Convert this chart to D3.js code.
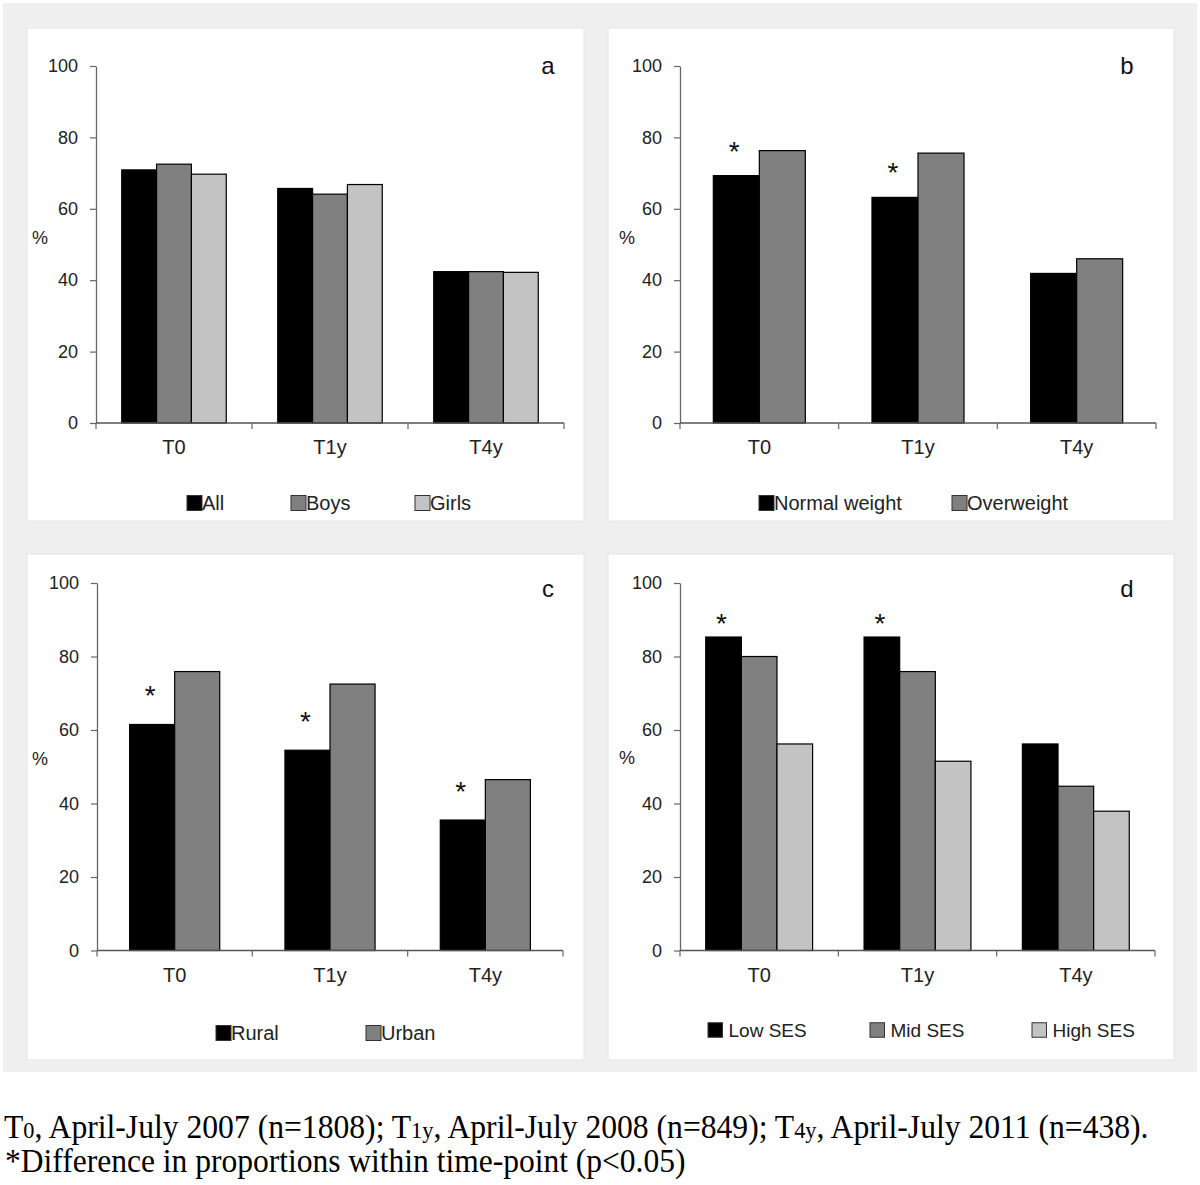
<!DOCTYPE html>
<html>
<head>
<meta charset="utf-8">
<script src="https://cdn.jsdelivr.net/npm/d3@7"></script>
<style>
  html, body { margin: 0; padding: 0; background: #ffffff; }
  svg { display: block; }
</style>
</head>
<body>
<svg id="chart" width="1200" height="1185"></svg>
<script>
// ---------------- data ----------------
const categories = ["T0", "T1y", "T4y"];
const yTicks = [0, 20, 40, 60, 80, 100];

// panel a: sex
const seriesA = ["All", "Boys", "Girls"];
const valuesAll   = [70.9, 65.7, 42.4];
const valuesBoys  = [72.5, 64.1, 42.4];
const valuesGirls = [69.7, 66.8, 42.2];

// panel b: weight status
const seriesB = ["Normal weight", "Overweight"];
const valuesNormal     = [69.3, 63.2, 41.9];
const valuesOverweight = [76.3, 75.6, 46.0];
const sigB = [true, true, false];

// panel c: residence
const seriesC = ["Rural", "Urban"];
const valuesRural = [61.5, 54.5, 35.5];
const valuesUrban = [75.9, 72.5, 46.5];
const sigC = [true, true, true];

// panel d: socio-economic status
const seriesD = ["Low SES", "Mid SES", "High SES"];
const valuesLow  = [85.3, 85.3, 56.2];
const valuesMid  = [80.0, 75.9, 44.7];
const valuesHigh = [56.2, 51.5, 37.9];
const sigD = [true, true, false];

const panelLetters = ["a", "b", "c", "d"];
const captionLine2 = "*Difference in proportions within time-point (p<0.05)";

// ---------------- drawing ----------------
const svg = d3.select("#chart");
const FONT = "'Liberation Sans', Arial, Helvetica, sans-serif";
const fills3 = ["#000000", "#808080", "#c3c3c3"];
const fills2 = ["#000000", "#808080"];

svg.append("rect").attr("x", 3).attr("y", 3).attr("width", 1194).attr("height", 1069)
  .attr("fill", "#efefef");

const panels = [
  { letter: panelLetters[0], box: [27, 28, 584, 521], x0: 96, x1: 564, yZero: 423, yTop: 66,
    series: seriesA, values: [valuesAll, valuesBoys, valuesGirls], fills: fills3, groupFrac: 0.67,
    sig: null, starOff: 0,
    legendX: [187, 291, 415], legendY: 503, legendGap: 0, legendSize: 15, legendFont: 20,
    pctX: 40, pctY: 238, letterX: 548, letterY: 74 },
  { letter: panelLetters[1], box: [608, 28, 1174, 521], x0: 680, x1: 1156, yZero: 423, yTop: 66,
    series: seriesB, values: [valuesNormal, valuesOverweight], fills: fills2, groupFrac: 0.58,
    sig: sigB, starOff: 31,
    legendX: [759, 952], legendY: 503, legendGap: 0, legendSize: 15, legendFont: 20,
    pctX: 627, pctY: 238, letterX: 1127, letterY: 74 },
  { letter: panelLetters[2], box: [27, 554, 584, 1060], x0: 97, x1: 563, yZero: 950.5, yTop: 583,
    series: seriesC, values: [valuesRural, valuesUrban], fills: fills2, groupFrac: 0.58,
    sig: sigC, starOff: 35,
    legendX: [216, 366], legendY: 1033, legendGap: 0, legendSize: 15, legendFont: 20,
    pctX: 40, pctY: 759, letterX: 548, letterY: 597 },
  { letter: panelLetters[3], box: [608, 554, 1174, 1060], x0: 680, x1: 1155, yZero: 950.5, yTop: 583,
    series: seriesD, values: [valuesLow, valuesMid, valuesHigh], fills: fills3, groupFrac: 0.675,
    sig: sigD, starOff: 20,
    legendX: [708, 870, 1032], legendY: 1030, legendGap: 6, legendSize: 14.5, legendFont: 19,
    pctX: 627, pctY: 758, letterX: 1127, letterY: 597 }
];

function drawPanel(cfg) {
  const g = svg.append("g");
  const [bx0, by0, bx1, by1] = cfg.box;
  g.append("rect").attr("x", bx0).attr("y", by0).attr("width", bx1 - bx0).attr("height", by1 - by0)
    .attr("fill", "#ffffff").attr("stroke", "#e4e4e4").attr("stroke-width", 1);

  const x = d3.scaleBand().domain(categories).range([cfg.x0, cfg.x1]).padding(0);
  const gw = x.bandwidth() * cfg.groupFrac;
  const xs = d3.scaleBand().domain(cfg.series).range([0, gw]).padding(0);
  const y = d3.scaleLinear().domain([0, 100]).range([cfg.yZero, cfg.yTop]);

  // bars
  cfg.series.forEach((s, i) => {
    g.append("g").selectAll("rect")
      .data(categories.map((c, j) => ({ c, v: cfg.values[i][j] })))
      .join("rect")
      .attr("x", d => x(d.c) + (x.bandwidth() - gw) / 2 + xs(s))
      .attr("y", d => y(d.v))
      .attr("width", xs.bandwidth())
      .attr("height", d => y(0) - y(d.v))
      .attr("fill", cfg.fills[i])
      .attr("stroke", "#000").attr("stroke-width", 1.2);
  });

  // significance stars above first series
  if (cfg.sig) {
    g.append("g").selectAll("text")
      .data(categories.map((c, j) => ({ c, v: cfg.values[0][j], s: cfg.sig[j] })).filter(d => d.s))
      .join("text")
      .attr("x", d => x(d.c) + (x.bandwidth() - gw) / 2 + xs(cfg.series[0]) + xs.bandwidth() / 2 - 2)
      .attr("y", d => y(d.v) - cfg.starOff + 16)
      .attr("text-anchor", "middle")
      .attr("font-family", FONT).attr("font-size", 28).attr("fill", "#111")
      .text("*");
  }

  // y axis
  const yAxis = d3.axisLeft(y).tickValues(yTicks).tickSize(6).tickSizeOuter(0).tickPadding(12);
  const ya = g.append("g").attr("transform", `translate(${cfg.x0},0)`).call(yAxis);
  ya.select(".domain").attr("stroke", "#666").attr("stroke-width", 1.3);
  ya.selectAll(".tick line").attr("stroke", "#666").attr("stroke-width", 1.2);
  ya.selectAll(".tick text").attr("font-family", FONT).attr("font-size", 18).attr("fill", "#222");

  // x axis line and boundary ticks
  g.append("line").attr("x1", cfg.x0).attr("x2", cfg.x1).attr("y1", y(0)).attr("y2", y(0))
    .attr("stroke", "#555").attr("stroke-width", 1.4);
  const bounds = categories.map(c => x(c)).concat([x.range()[1]]);
  g.append("g").selectAll("line").data(bounds).join("line")
    .attr("x1", d => d).attr("x2", d => d).attr("y1", y(0)).attr("y2", y(0) + 6)
    .attr("stroke", "#666").attr("stroke-width", 1.2);

  const xAxis = d3.axisBottom(x).tickSize(0).tickPadding(17);
  const xa = g.append("g").attr("transform", `translate(0,${y(0)})`).call(xAxis);
  xa.select(".domain").remove();
  xa.selectAll(".tick text").attr("font-family", FONT).attr("font-size", 20).attr("fill", "#222");

  // % label
  g.append("text").attr("x", cfg.pctX).attr("y", cfg.pctY).attr("dy", "0.35em")
    .attr("text-anchor", "middle").attr("font-family", FONT).attr("font-size", 18).attr("fill", "#222")
    .text("%");

  // panel letter
  g.append("text").attr("x", cfg.letterX).attr("y", cfg.letterY)
    .attr("text-anchor", "middle").attr("font-family", FONT).attr("font-size", 24).attr("fill", "#111")
    .text(cfg.letter);

  // legend
  const lg = g.append("g");
  cfg.series.forEach((s, i) => {
    const lx = cfg.legendX[i];
    lg.append("rect").attr("x", lx).attr("y", cfg.legendY - cfg.legendSize / 2)
      .attr("width", cfg.legendSize).attr("height", cfg.legendSize)
      .attr("fill", cfg.fills[i]).attr("stroke", "#333").attr("stroke-width", 1);
    lg.append("text").attr("x", lx + cfg.legendSize + cfg.legendGap).attr("y", cfg.legendY)
      .attr("dy", "0.36em").attr("font-family", FONT).attr("font-size", cfg.legendFont).attr("fill", "#222")
      .text(s);
  });
}

panels.forEach(drawPanel);

// caption
const SERIF = "'Liberation Serif', 'Times New Roman', Times, serif";
function fitText(sel, targetW, x0) {
  const w = sel.node().getBBox().width;
  sel.attr("transform", `translate(${x0},0) scale(${targetW / w},1)`);
}
const cap1 = svg.append("text").attr("x", 0).attr("y", 1138)
  .attr("font-family", SERIF).attr("font-size", 34).attr("fill", "#000");
const capParts = [
  ["T", false], ["0", true], [", April-July 2007 (n=1808); T", false], ["1y", true],
  [", April-July 2008 (n=849); T", false], ["4y", true], [", April-July 2011 (n=438).", false]
];
capParts.forEach(([t, sub]) => {
  cap1.append("tspan").attr("font-size", sub ? 24 : 34).text(t);
});
fitText(cap1, 1145, 4);
const cap2 = svg.append("text").attr("x", 0).attr("y", 1172)
  .attr("font-family", SERIF).attr("font-size", 34).attr("fill", "#000").text(captionLine2);
fitText(cap2, 681, 5);
</script>
</body>
</html>
